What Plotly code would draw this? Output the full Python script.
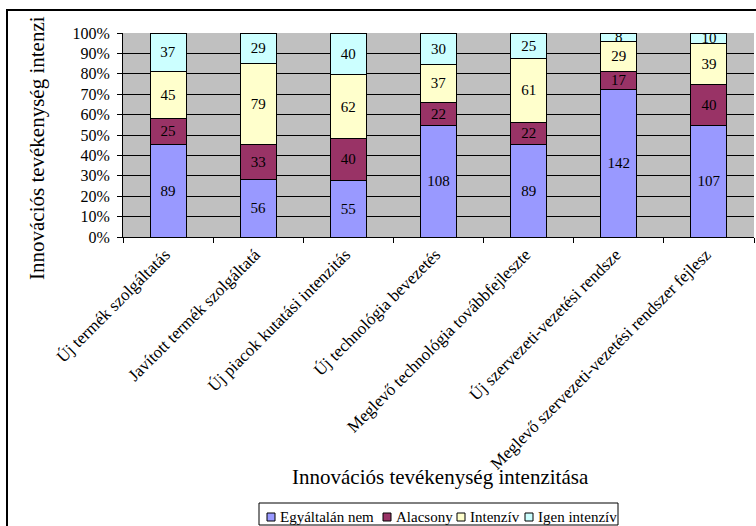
import plotly.graph_objects as go

# Activity types (labels as shown on the category axis)
categories = [
    "Új termék szolgáltatás",
    "Javított termék szolgáltatá",
    "Új piacok kutatási intenzitás",
    "Új technológia bevezetés",
    "Meglevő technológia továbbfejleszte",
    "Új szervezeti-vezetési rendsze",
    "Meglevő szervezeti-vezetési rendszer fejlesz",
]

# Number of respondents per intensity level
egyaltalan_nem = [89, 56, 55, 108, 89, 142, 107]
alacsony = [25, 33, 40, 22, 22, 17, 40]
intenziv = [45, 79, 62, 37, 61, 29, 39]
igen_intenziv = [37, 29, 40, 30, 25, 8, 10]

series_names = ["Egyáltalán nem", "Alacsony", "Intenzív", "Igen intenzív"]
series_values = [egyaltalan_nem, alacsony, intenziv, igen_intenziv]
series_colors = ["#9999FF", "#993366", "#FFFFCC", "#CCFFFF"]

y_ticks = list(range(0, 101, 10))
y_tick_labels = [f"{v}%" for v in y_ticks]

FONT = "Liberation Serif, Times New Roman, serif"
W, H = 756, 526
ML, MR, MT, MB = 123, 2, 33, 289
PW, PH = W - ML - MR, H - MT - MB


def px_x(x):
    return (x - ML) / PW


def px_y(y):
    return (H - MB - y) / PH


fig = go.Figure()
for name, vals, col in zip(series_names, series_values, series_colors):
    fig.add_trace(go.Bar(
        x=categories, y=vals, name=name,
        marker=dict(color=col, line=dict(color="#000000", width=1)),
        text=[str(v) for v in vals],
        textposition="inside", insidetextanchor="middle", textangle=0,
        constraintext="none",
        textfont=dict(family=FONT, size=15, color="#000000"),
        showlegend=False,
    ))

fig.update_layout(
    width=W, height=H,
    margin=dict(l=ML, r=MR, t=MT, b=MB),
    barmode="stack", barnorm="percent", bargap=0.6,
    plot_bgcolor="#C0C0C0", paper_bgcolor="#FFFFFF",
    font=dict(family=FONT, size=16, color="#000000"),
    showlegend=False,
)

fig.update_xaxes(
    type="category", tickangle=-45, ticks="outside", ticklen=5,
    tickson="boundaries", tickcolor="#000000", tickwidth=1,
    showline=True, linecolor="#000000", linewidth=1, showgrid=False,
    tickfont=dict(family=FONT, size=17, color="#000000"),
    ticklabelshift=-3,
)
fig.update_yaxes(
    range=[0, 100], tickvals=y_ticks, ticktext=y_tick_labels,
    ticks="outside", ticklen=5, tickcolor="#000000", tickwidth=1,
    showline=True, linecolor="#000000", linewidth=1,
    showgrid=True, gridcolor="#000000", gridwidth=1, zeroline=False,
    tickfont=dict(family=FONT, size=16, color="#000000"),
    ticklabelstandoff=4,
)

annotations = [
    dict(text="Innovációs tevékenység intenzitása", x=px_x(440), y=px_y(477),
         xref="paper", yref="paper", showarrow=False,
         xanchor="center", yanchor="middle",
         font=dict(family=FONT, size=21, color="#000000")),
    dict(text="Innovációs tevékenység intenzi", x=px_x(37), y=px_y(148),
         xref="paper", yref="paper", showarrow=False, textangle=-90,
         xanchor="center", yanchor="middle",
         font=dict(family=FONT, size=21, color="#000000")),
]

shapes = [
    # outer chart frame: top and left edges
    dict(type="line", xref="paper", yref="paper",
         x0=px_x(6), x1=px_x(756), y0=px_y(10), y1=px_y(10),
         line=dict(color="#000000", width=2)),
    dict(type="line", xref="paper", yref="paper",
         x0=px_x(7), x1=px_x(7), y0=px_y(9), y1=px_y(526),
         line=dict(color="#000000", width=2)),
    # legend box
    dict(type="rect", xref="paper", yref="paper",
         x0=px_x(259), x1=px_x(618), y0=px_y(525), y1=px_y(503),
         line=dict(color="#000000", width=1), fillcolor="#FFFFFF"),
]

# legend entries: swatch left edge in px
legend_x = [267, 383, 457, 525]
for name, col, lx in zip(series_names, series_colors, legend_x):
    shapes.append(dict(type="rect", xref="paper", yref="paper",
                       x0=px_x(lx), x1=px_x(lx + 8), y0=px_y(521), y1=px_y(513),
                       line=dict(color="#000000", width=1), fillcolor=col))
    annotations.append(dict(text=name, x=px_x(lx + 11), y=px_y(517),
                            xref="paper", yref="paper", showarrow=False,
                            xanchor="left", yanchor="middle",
                            font=dict(family=FONT, size=15, color="#000000")))

fig.update_layout(annotations=annotations, shapes=shapes)

fig.write_html("out.html")
